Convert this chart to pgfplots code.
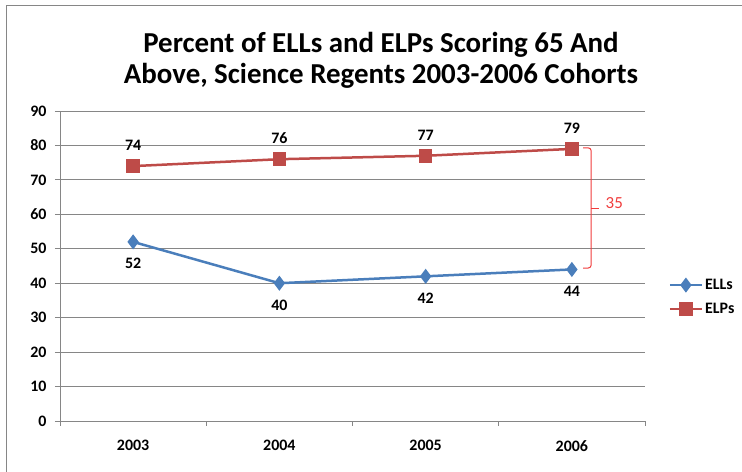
\documentclass[border=0pt]{standalone}
\usepackage{fontspec}
\setmainfont{Carlito}
\usepackage{pgfplots}
\pgfplotsset{compat=1.18}
\definecolor{ellblue}{HTML}{4A7EBB}
\definecolor{elpred}{HTML}{BE4B48}
\definecolor{gridgray}{HTML}{868686}
\definecolor{bracered}{HTML}{F03C3C}
\begin{document}
\begin{tikzpicture}[x=1bp,y=1bp]
\begin{axis}[
    scale only axis,
    width=585bp, height=310bp,
    xmin=-0.5, xmax=3.5, ymin=0, ymax=90,
    xtick={-0.5,0.5,1.5,2.5,3.5},
    xticklabels={2003,2004,2005,2006},
    x tick label as interval,
    ytick={0,10,...,90},
    ymajorgrids,
    grid style={gridgray, line width=0.8pt},
    axis lines*=left,
    axis line style={gridgray, line width=0.8pt},
    tick align=outside,
    major tick length=5bp,
    tick style={gridgray, line width=0.8pt},
    ticklabel style={font=\bfseries\fontsize{16}{18}\selectfont},
    xticklabel style={yshift=-11bp},
    yticklabel style={xshift=-5bp},
    /pgf/number format/assume math mode=true,
    legend style={at={(1.035,0.40)}, anchor=west, draw=none, fill=none,
        font=\bfseries\fontsize{16}{18}\selectfont, row sep=8bp},
    legend cell align=left,
    legend image code/.code={\draw[mark repeat=2,mark phase=2,#1]
        plot coordinates {(0bp,0bp) (16bp,0bp) (32bp,0bp)};},
]
\addplot[ellblue, line width=2.5bp, mark=diamond*, mark size=5.5bp,
    nodes near coords,
    nodes near coords style={anchor=north, yshift=-12bp, text=black,
        font=\bfseries\fontsize{16}{18}\selectfont}]
    coordinates {(0,52) (1,40) (2,42) (3,44)};
\addlegendentry{ELLs}
\addplot[elpred, line width=2.5bp, mark=square*, mark size=5.5bp,
    nodes near coords,
    nodes near coords style={anchor=south, yshift=11bp, text=black,
        font=\bfseries\fontsize{16}{18}\selectfont}]
    coordinates {(0,74) (1,76) (2,77) (3,79)};
\addlegendentry{ELPs}
% brace marking the gap in 2006
\draw[bracered, line width=1bp, rounded corners=3bp]
    (axis cs:3.077,79.3) -- (axis cs:3.132,79.3) -- (axis cs:3.132,44.4) -- (axis cs:3.077,44.4);
\draw[bracered, line width=1bp] (axis cs:3.132,61.8) -- (axis cs:3.185,61.8);
\node[bracered, font=\fontsize{17}{19}\selectfont] at (axis cs:3.29,63.3) {35};
\end{axis}
\draw[gridgray, line width=1bp] (-53,-51) -- (-53,415) -- (682,415);
\node[font=\bfseries\fontsize{29}{31}\selectfont, align=center] at (321,361)
    {Percent of ELLs and ELPs Scoring 65 And\\Above, Science Regents 2003-2006 Cohorts};
\pgfresetboundingbox
\path (-60,-51) rectangle (682,421);
\end{tikzpicture}
\end{document}
